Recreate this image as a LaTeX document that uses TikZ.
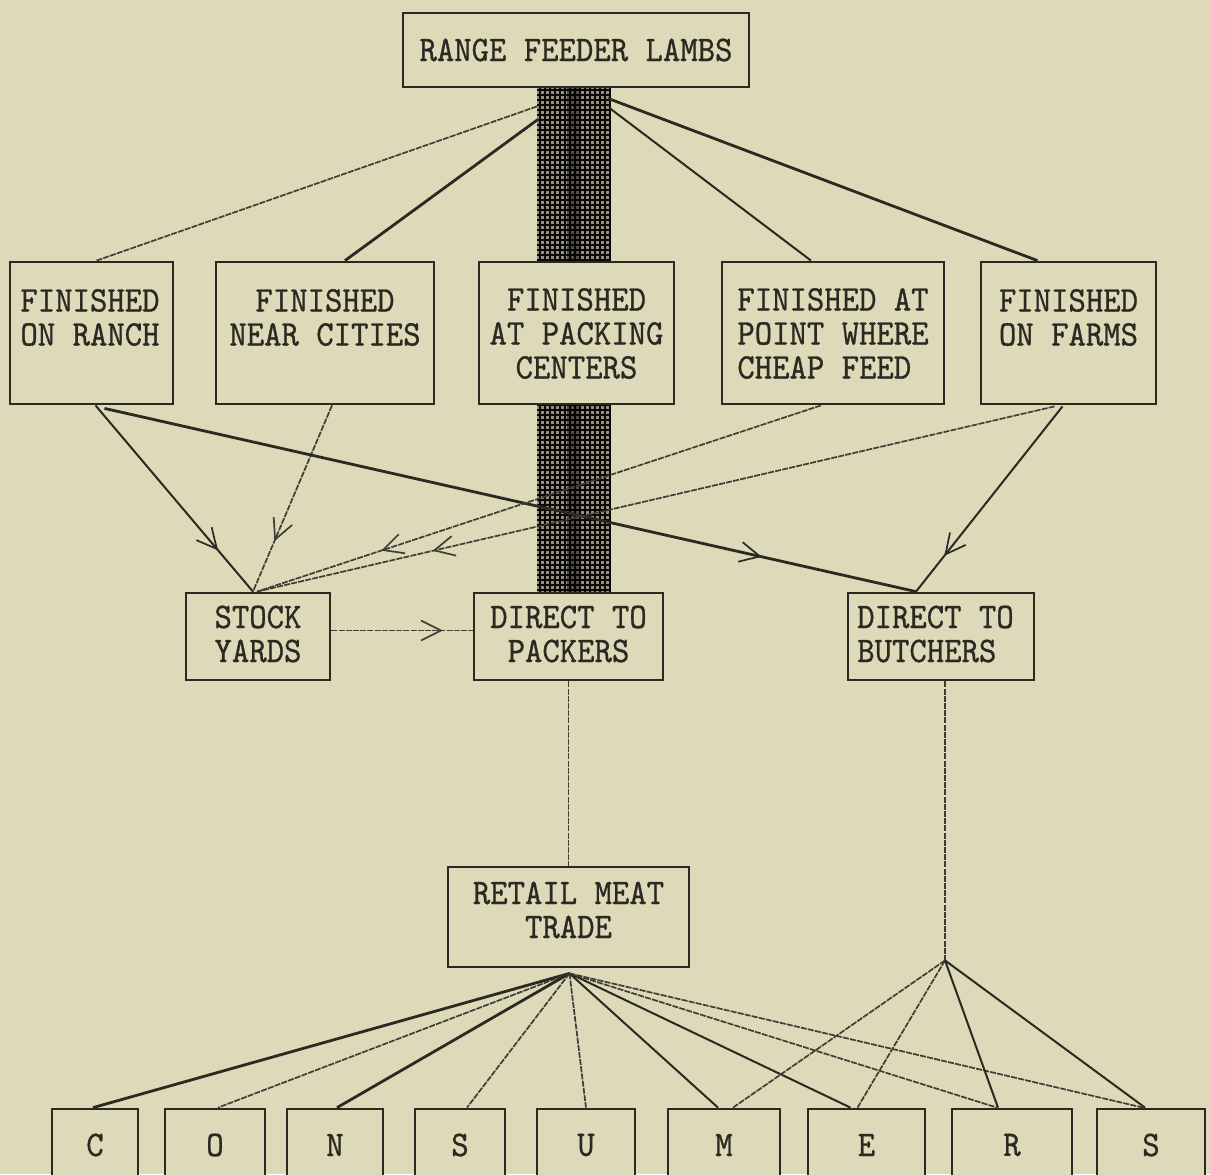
\documentclass[tikz,border=0pt]{standalone}
\usepackage{fontspec}
\newfontfamily\twfont{lmmono10-regular.otf}[FakeStretch=0.92,FakeBold=0.8]
\usetikzlibrary{arrows.meta,decorations.markings,calc}
\definecolor{paper}{RGB}{220,218,184}
\definecolor{ink}{RGB}{45,40,34}
\definecolor{bandbg}{RGB}{150,144,128}
\begin{document}
\begin{tikzpicture}[x=0.5pt,y=-0.5pt,
  box/.style={draw=ink,line width=1.4pt,fill=paper,inner sep=0pt},
  lbl/.style={text=ink,inner sep=0pt,font=\twfont\fontsize{18}{17}\selectfont},
  conn/.style={color=ink,line width=1pt},
  heavy/.style={color=ink,line width=1.4pt},
  faint/.style={color=ink!88!paper,line width=0.85pt,dash pattern=on 3pt off 0.6pt},
  midarrow/.style={postaction={decorate},decoration={markings,mark=at position #1 with {\arrow{Straight Barb[length=10pt,width=10pt,line width=0.85pt]}}}},
]
\clip (0,0) rectangle (1210,1174);
\fill[paper] (0,0) rectangle (1210,1174);

% dark band
\fill[bandbg] (537,87) rectangle (611,262);
\fill[bandbg] (537,404) rectangle (611,593);
\draw[black!85!ink,line width=1.25pt,step=2.5pt] (537,87) grid (611,262);
\draw[black!85!ink,line width=1.25pt,step=2.5pt] (537,404) grid (611,593);
\draw[black,line width=6pt,opacity=0.45] (573,87) -- (573,262);
\draw[black,line width=6pt,opacity=0.45] (573,404) -- (573,593);

% boxes
\node[box,lbl,minimum width=173pt,minimum height=37pt] (top) at (576,50) {RANGE FEEDER LAMBS};
\node[box,minimum width=81.5pt,minimum height=71pt] (b1) at (91.5,333) {};
\node[box,minimum width=109pt,minimum height=71pt] (b2) at (325,333) {};
\node[box,minimum width=97.5pt,minimum height=71pt] (b3) at (576.5,333) {};
\node[box,minimum width=111pt,minimum height=71pt] (b4) at (833,333) {};
\node[box,minimum width=87.5pt,minimum height=71pt] (b5) at (1068.5,333) {};
\node[lbl,align=center] (b1t) at (90,317.5) {FINISHED\\ON RANCH};
\node[lbl,align=center] (b2t) at (325,317.5) {FINISHED\\NEAR CITIES};
\node[lbl,align=center] (b3t) at (576.5,333.5) {FINISHED\\AT PACKING\\CENTERS};
\node[lbl,align=left] (b4t) at (833,333.5) {FINISHED AT\\POINT WHERE\\CHEAP FEED};
\node[lbl,align=left] (b5t) at (1068.5,317.5) {FINISHED\\ON FARMS};

\node[box,minimum width=72pt,minimum height=43.5pt] (sy) at (258,636.5) {};
\node[box,minimum width=94.5pt,minimum height=43.5pt] (dp) at (568.5,636.5) {};
\node[box,minimum width=93pt,minimum height=43.5pt] (db) at (941,636.5) {};
\node[lbl,align=center] (syt) at (258,634) {STOCK\\YARDS};
\node[lbl,align=center] (dpt) at (568.5,634) {DIRECT TO\\PACKERS};
\node[lbl,align=left] (dbt) at (935.5,634) {DIRECT TO\\BUTCHERS};

\node[box,minimum width=120.5pt,minimum height=50pt] (rmt) at (568.5,917) {};
\node[lbl,align=center] (rmtt) at (568.5,910) {RETAIL MEAT\\TRADE};

\node[box,lbl,minimum width=43pt,minimum height=36pt] (c1) at (95,1145) {C};
\node[box,lbl,minimum width=50pt,minimum height=36pt] (c2) at (215,1145) {O};
\node[box,lbl,minimum width=48pt,minimum height=36pt] (c3) at (335,1145) {N};
\node[box,lbl,minimum width=45pt,minimum height=36pt] (c4) at (460,1145) {S};
\node[box,lbl,minimum width=49pt,minimum height=36pt] (c5) at (586,1145) {U};
\node[box,lbl,minimum width=56pt,minimum height=36pt] (c6) at (724,1145) {M};
\node[box,lbl,minimum width=58.5pt,minimum height=36pt] (c7) at (866.5,1145) {E};
\node[box,lbl,minimum width=60pt,minimum height=36pt] (c8) at (1012,1145) {R};
\node[box,lbl,minimum width=54pt,minimum height=36pt] (c9) at (1151,1145) {S};

% top fan
\coordinate (tA) at ($(top.south)+(-39,18)$);
\coordinate (tB) at ($(top.south)+(-38,31)$);
\coordinate (tD) at ($(top.south)+(34,20)$);
\coordinate (tE) at ($(top.south)+(32,10)$);
\draw[faint] (tA) -- ($(b1.north)+(5,0)$);
\draw[heavy] (tB) -- ($(b2.north)+(20,0)$);
\draw[conn] (tD) -- ($(b4.north)+(-22,0)$);
\draw[heavy] (tE) -- ($(b5.north)+(-31,0)$);

% row 2 to row 3
\draw[conn,midarrow=0.78] ($(b1.south)+(4,0)$) -- ($(sy.north)+(-5,0)$);
\draw[faint,midarrow=0.73] ($(b2.south)+(7,0)$) -- ($(sy.north)+(-5,0)$);
\draw[heavy,midarrow=0.81] ($(b1.south)+(13,3)$) -- ($(db.north)+(-25,0)$);
\draw[faint,midarrow=0.78] ($(b4.south)+(-12,0)$) -- ($(sy.north)+(-1,0)$);
\draw[faint,midarrow=0.78] ($(b5.south)+(-14,1)$) -- ($(sy.north)+(-1,0)$);
\draw[conn,midarrow=0.81] ($(b5.south)+(-6,1)$) -- ($(db.north)+(-25,0)$);
\draw[faint,midarrow=0.79] ($(sy.east)+(0,-6)$) -- ($(dp.west)+(0,-6)$);

% to retail and butchers apex
\draw[faint] (dp.south) -- (rmt.north);
\coordinate (bapex) at ($(db.south)+(4,279)$);
\draw[faint] ($(db.south)+(4,0)$) -- (bapex);

% retail fan
\coordinate (rapex) at ($(rmt.south)+(1,5)$);
\draw[heavy] (rapex) -- ($(c1.north)+(-2,0)$);
\draw[faint] (rapex) -- ($(c2.north)+(3,0)$);
\draw[heavy] (rapex) -- ($(c3.north)+(2,0)$);
\draw[faint] (rapex) -- ($(c4.north)+(7,0)$);
\draw[faint] (rapex) -- ($(c5.north)+(0,0)$);
\draw[conn] (rapex) -- ($(c6.north)+(-6,0)$);
\draw[conn] (rapex) -- ($(c7.north)+(-16,0)$);
\draw[faint] (rapex) -- ($(c8.north)+(-15,0)$);
\draw[faint] (rapex) -- ($(c9.north)+(-8,0)$);

% butchers fan
\draw[faint] (bapex) -- ($(c6.north)+(9,0)$);
\draw[faint] (bapex) -- ($(c7.north)+(-9,0)$);
\draw[conn] (bapex) -- ($(c8.north)+(-14,0)$);
\draw[conn] (bapex) -- ($(c9.north)+(-6,0)$);
\end{tikzpicture}
\end{document}
